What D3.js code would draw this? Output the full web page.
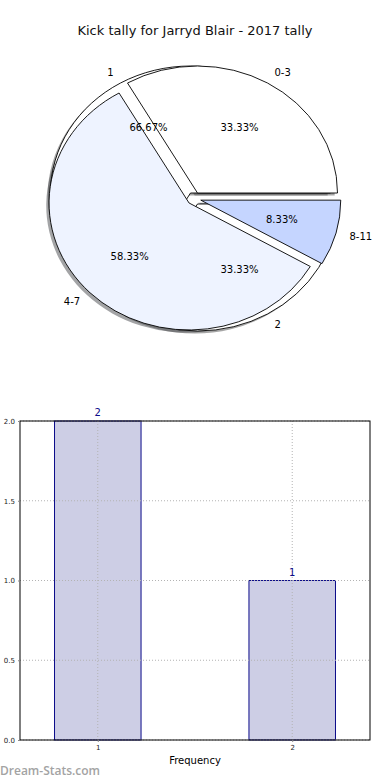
<!DOCTYPE html>
<html>
<head>
<meta charset="utf-8">
<script src="https://cdn.jsdelivr.net/npm/d3@7"></script>
<style>
body{margin:0;background:#fff;}
text{font-family:"DejaVu Sans",sans-serif;}
</style>
</head>
<body>
<script>
// data
var rangeLabels = ["0-3", "4-7", "8-11"];
var rangeCounts = [4, 7, 1];
var freqLabels = ["1", "2"];
var freqCounts = [2, 1];
var yTicks = [0, 0.5, 1.0, 1.5, 2.0];

var w = 390, h = 780;
var svg = d3.select("body").append("svg")
    .attr("width", w)
    .attr("height", h);

svg.append("text")
    .attr("x", 195).attr("y", 35)
    .attr("text-anchor", "middle")
    .style("font-size", "13px")
    .attr("fill", "#111")
    .text("Kick tally for Jarryd Blair - 2017 tally");

// ---- pie (two pies on same axes, drawn as ellipse) ----
var cx = 194, cy = 198.5, rx = 140, ry = 127;
var explode = 0.05;
var pie = d3.pie().sort(null)
    .startAngle(Math.PI / 2)
    .endAngle(Math.PI / 2 - 2 * Math.PI);
var arc = d3.arc().innerRadius(0).outerRadius(rx);

var rangeColors = ["#ffffff", "#eef3ff", "#c5d5ff"];
var freqColors = ["#ffffff", "#ffffff"];

function build(counts, labels, colors){
    return pie(counts).map(function(d, i){
        d.mid = (d.startAngle + d.endAngle) / 2;
        d.label = labels[i];
        d.fill = colors[i];
        d.ex = explode;
        d.pct = (100 * d.value / d3.sum(counts)).toFixed(2) + "%";
        return d;
    });
}
// frequency pie sits underneath the range pie
var wedges = build(freqCounts, freqLabels, freqColors)
    .concat(build(rangeCounts, rangeLabels, rangeColors));

var g = svg.append("g")
    .attr("transform", "translate(" + cx + "," + cy + ") scale(1," + (ry / rx) + ")");

function shadeOf(c){
    var r = d3.rgb(c);
    return d3.rgb(r.r * 0.3, r.g * 0.3, r.b * 0.3).toString();
}

g.selectAll("path.shadow")
    .data(wedges)
    .enter()
    .append("path")
    .attr("class", "shadow")
    .attr("d", arc)
    .attr("fill", function(d){ return shadeOf(d.fill); })
    .attr("fill-opacity", 0.5)
    .attr("transform", function(d){
        var dx = d.ex * rx * Math.sin(d.mid) - 0.02 * rx;
        var dy = -d.ex * rx * Math.cos(d.mid) + 0.02 * rx;
        return "translate(" + dx + "," + dy + ")";
    });

g.selectAll("path.wedge")
    .data(wedges)
    .enter()
    .append("path")
    .attr("class", "wedge")
    .attr("d", arc)
    .attr("fill", function(d){ return d.fill; })
    .attr("stroke", "#000")
    .attr("stroke-width", 0.9)
    .attr("vector-effect", "non-scaling-stroke")
    .attr("transform", function(d){
        var dx = d.ex * rx * Math.sin(d.mid);
        var dy = -d.ex * rx * Math.cos(d.mid);
        return "translate(" + dx + "," + dy + ")";
    });

svg.selectAll("text.plabel")
    .data(wedges)
    .enter()
    .append("text")
    .attr("class", "plabel")
    .attr("x", function(d){ return cx + (d.ex + 1.1) * rx * Math.sin(d.mid); })
    .attr("y", function(d){ return cy - (d.ex + 1.1) * ry * Math.cos(d.mid); })
    .attr("text-anchor", function(d){ return Math.sin(d.mid) > 0 ? "start" : "end"; })
    .attr("dominant-baseline", "central")
    .style("font-size", "10px")
    .text(function(d){ return d.label; });

svg.selectAll("text.pct")
    .data(wedges)
    .enter()
    .append("text")
    .attr("class", "pct")
    .attr("x", function(d){ return cx + (d.ex + 0.6) * rx * Math.sin(d.mid); })
    .attr("y", function(d){ return cy - (d.ex + 0.6) * ry * Math.cos(d.mid); })
    .attr("text-anchor", "middle")
    .attr("dominant-baseline", "central")
    .style("font-size", "10px")
    .text(function(d){ return d.pct; });

// ---- bar chart ----
var x = d3.scaleLinear().domain([0.6, 2.4]).range([20, 370]);
var y = d3.scaleLinear().domain([0, 2]).range([740, 421]);
var barW = 0.445;

svg.selectAll("rect.bar")
    .data(freqCounts)
    .enter()
    .append("rect")
    .attr("class", "bar")
    .attr("x", function(d, i){ return x(+freqLabels[i] - barW / 2); })
    .attr("width", function(){ return x(barW) - x(0); })
    .attr("y", function(d){ return y(d); })
    .attr("height", function(d){ return y(0) - y(d); })
    .attr("fill", "#cdcee5")
    .attr("stroke", "#0c0c8a")
    .attr("stroke-width", 1);

// grid
svg.selectAll("line.gy")
    .data(yTicks)
    .enter()
    .append("line")
    .attr("x1", 20).attr("x2", 370)
    .attr("y1", function(d){ return y(d); })
    .attr("y2", function(d){ return y(d); })
    .attr("stroke", "#b3b3b3")
    .attr("stroke-dasharray", "1,2");
svg.selectAll("line.gx")
    .data(freqLabels)
    .enter()
    .append("line")
    .attr("y1", 421).attr("y2", 740)
    .attr("x1", function(d){ return x(+d); })
    .attr("x2", function(d){ return x(+d); })
    .attr("stroke", "#b3b3b3")
    .attr("stroke-dasharray", "1,2");

// frame
svg.append("rect")
    .attr("x", 20).attr("y", 421)
    .attr("width", 350).attr("height", 319)
    .attr("fill", "none")
    .attr("stroke", "#000")
    .attr("stroke-width", 1);

// axes
var yAxis = d3.axisLeft(y).tickValues(yTicks).tickSize(2).tickFormat(d3.format(".1f"));
var ya = svg.append("g").attr("transform", "translate(20,0)").call(yAxis);
ya.select(".domain").remove();
ya.selectAll("line").attr("stroke", "#888");
ya.selectAll("text").style("font-size", "7px").attr("fill", "#222");

var xAxis = d3.axisBottom(x).tickValues(freqLabels.map(Number)).tickSize(2).tickFormat(d3.format("d"));
var xa = svg.append("g").attr("transform", "translate(0,740)").call(xAxis);
xa.select(".domain").remove();
xa.selectAll("line").attr("stroke", "#888");
xa.selectAll("text").style("font-size", "7px").attr("fill", "#222");

// value labels
svg.selectAll("text.val")
    .data(freqCounts)
    .enter()
    .append("text")
    .attr("class", "val")
    .attr("x", function(d, i){ return x(+freqLabels[i]); })
    .attr("y", function(d){ return y(d) - 5; })
    .attr("text-anchor", "middle")
    .attr("fill", "#0c0c8a")
    .style("font-size", "10px")
    .text(function(d){ return d; });

svg.append("text")
    .attr("x", 195).attr("y", 764)
    .attr("text-anchor", "middle")
    .style("font-size", "10px")
    .text("Frequency");

svg.append("text")
    .attr("x", 0).attr("y", 775)
    .style("font-family", "'Open Sans',sans-serif")
    .style("font-weight", "600")
    .style("font-size", "12px")
    .attr("fill", "#a3a3a3")
    .text("Dream-Stats.com");
</script>
</body>
</html>
